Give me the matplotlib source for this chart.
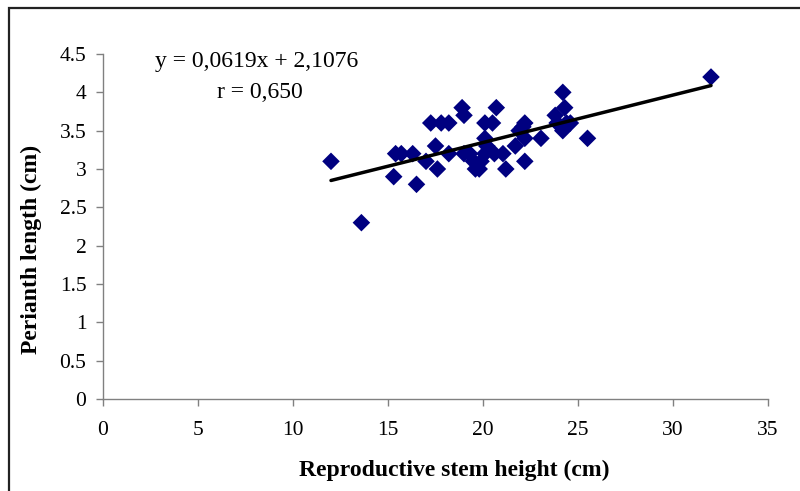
import matplotlib
matplotlib.use("Agg")
import matplotlib.pyplot as plt
from matplotlib.patches import Rectangle

stem_height = [12.0, 13.6, 15.3, 15.4, 15.7, 16.3, 16.5, 17.0, 17.25, 17.5, 17.6, 17.8,
               18.2, 18.2, 18.9, 19.0, 19.0, 19.3, 19.5, 19.6, 19.8, 19.9, 20.1, 20.1,
               20.2, 20.1, 20.5, 20.6, 20.7, 21.05, 21.2, 21.7, 21.9, 22.1, 22.2, 22.2,
               22.2, 23.05, 23.8, 23.9, 24.2, 24.3, 24.2, 24.4, 24.6, 25.5, 32.0]
perianth_len = [3.1, 2.3, 2.9, 3.2, 3.2, 3.2, 2.8, 3.1, 3.6, 3.3, 3.0, 3.6,
                3.6, 3.2, 3.8, 3.7, 3.2, 3.2, 3.1, 3.0, 3.0, 3.1, 3.2, 3.4,
                3.3, 3.6, 3.6, 3.2, 3.8, 3.2, 3.0, 3.3, 3.5, 3.55, 3.6, 3.4,
                3.1, 3.4, 3.7, 3.6, 4.0, 3.8, 3.5, 3.6, 3.6, 3.4, 4.2]

slope = 0.0619
intercept = 2.1076
line_x = [12.0, 32.0]

x_ticks = [0, 5, 10, 15, 20, 25, 30, 35]
y_ticks = [0, 0.5, 1, 1.5, 2, 2.5, 3, 3.5, 4, 4.5]
y_tick_labels = ["0", "0.5", "1", "1.5", "2", "2.5", "3", "3.5", "4", "4.5"]

plt.rcParams['font.family'] = ['Liberation Serif', 'DejaVu Serif']

fig = plt.figure(figsize=(8.0, 4.91), dpi=100)
fig.patches.append(Rectangle((9 / 800, -0.1), 1.2, 1 - 8 / 491 + 0.1,
                             transform=fig.transFigure, fill=False,
                             edgecolor='#222222', linewidth=1.6))

ax = fig.add_axes([103 / 800, 1 - 399 / 491, 665 / 800, 345 / 491])
ax.scatter(stem_height, perianth_len, marker='D', s=80, color='#000080',
           edgecolors='none', zorder=3)
ax.plot(line_x, [slope * v + intercept for v in line_x], color='black',
        linewidth=2.5, solid_capstyle='round', zorder=4)

ax.set_xlim(0, 35)
ax.set_ylim(0, 4.5)
ax.set_xticks(x_ticks)
ax.set_yticks(y_ticks)
ax.set_yticklabels(y_tick_labels)
for s in ['top', 'right']:
    ax.spines[s].set_visible(False)
for s in ['left', 'bottom']:
    ax.spines[s].set_color('#808080')
    ax.spines[s].set_linewidth(1.0)
ax.tick_params(axis='both', colors='#808080', labelcolor='black', labelsize=15.5,
               length=5, width=1.0, direction='out')
ax.tick_params(axis='x', pad=11)
ax.tick_params(axis='y', pad=7)

ax.set_xlabel('Reproductive stem height (cm)', fontsize=17, fontweight='bold',
              va='center')
ax.set_ylabel('Perianth length (cm)', fontsize=17, fontweight='bold', va='center')
ax.xaxis.set_label_coords((454 - 103) / 665, (399 - 470) / 345)
ax.yaxis.set_label_coords((31 - 103) / 665, (399 - 249) / 345)

fig.text(257 / 800, 1 - 62 / 491, 'y = 0,0619x + 2,1076', fontsize=17,
         ha='center', va='center')
fig.text(260 / 800, 1 - 93 / 491, 'r = 0,650', fontsize=17, ha='center', va='center')

fig.savefig('out.png', dpi=100)
